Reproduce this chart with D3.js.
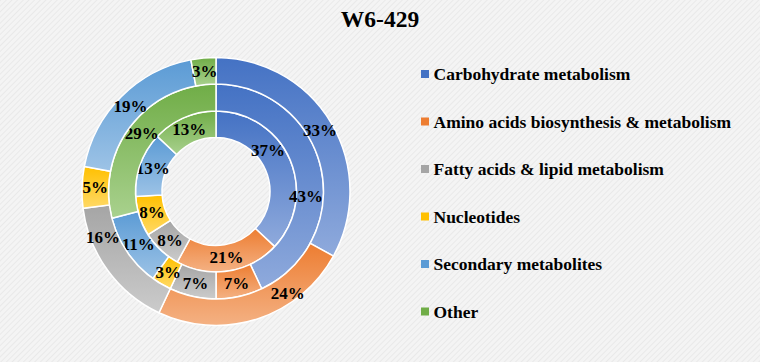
<!DOCTYPE html>
<html>
<head>
<meta charset="utf-8">
<script src="https://cdn.jsdelivr.net/npm/d3@7/dist/d3.min.js"></script>
<style>
  html, body { margin: 0; padding: 0; background: #f3f3f3; }
  svg { display: block; }
</style>
</head>
<body>
<svg id="chart" width="760" height="362"></svg>
<script>
// ---- Data ----
const title = "W6-429";
const categories = [
  "Carbohydrate metabolism",
  "Amino acids biosynthesis & metabolism",
  "Fatty acids & lipid metabolism",
  "Nucleotides",
  "Secondary metabolites",
  "Other"
];
const innerValues  = [37, 21, 8, 8, 13, 13];
const middleValues = [43, 7, 7, 3, 11, 29];
const outerValues  = [33, 24, 16, 5, 19, 3];

// ---- Styles ----
const darkColors  = ["#4472C4", "#ED7D31", "#A5A5A5", "#FFC000", "#5B9BD5", "#70AD47"];
const lightColors = ["#8FAADC", "#F4B183", "#CBCBCB", "#FFD966", "#9DC3E6", "#A9D18E"];

// label placement tweaks (ring index, slice index) -> angle in degrees / radius
const labelOverrides = {
  "0-0": { angle: 52, r: 66 },
  "1-0": { angle: 93, r: 90 },
  "2-1": { angle: 145, r: 125 },
  "2-2": { angle: 248, r: 122 }
};

const W = 760, H = 362;
const cx = 216, cy = 191.5;
const radii = [[54, 80.5], [80.5, 107.5], [107.5, 134]];
const rings = [innerValues, middleValues, outerValues];

const svg = d3.select("#chart");
const defs = svg.append("defs");

// background pattern
const pat = defs.append("pattern")
  .attr("id", "bgpat").attr("width", 4).attr("height", 4)
  .attr("patternUnits", "userSpaceOnUse")
  .attr("patternTransform", "rotate(45)");
pat.append("rect").attr("width", 4).attr("height", 4).attr("fill", "#f4f4f4");
pat.append("line").attr("x1", 0).attr("y1", 0).attr("x2", 0).attr("y2", 4)
  .attr("stroke", "#e6e6e6").attr("stroke-width", 1.5);

svg.append("rect").attr("width", W).attr("height", H).attr("fill", "url(#bgpat)");

// gradients per category
categories.forEach((c, i) => {
  const g = defs.append("linearGradient").attr("id", "grad" + i)
    .attr("x1", 0).attr("y1", 0).attr("x2", 0).attr("y2", 1);
  g.append("stop").attr("offset", "0%").attr("stop-color", darkColors[i]);
  g.append("stop").attr("offset", "100%").attr("stop-color", lightColors[i]);
});

// title
svg.append("text")
  .attr("x", 380).attr("y", 27)
  .attr("text-anchor", "middle")
  .attr("font-family", "'Liberation Serif', 'Times New Roman', serif")
  .attr("font-weight", "bold")
  .attr("font-size", 23.5)
  .attr("fill", "#000")
  .text(title);

const pie = d3.pie().sort(null).value(d => d);
const chartG = svg.append("g").attr("transform", `translate(${cx},${cy})`);

rings.forEach((vals, ri) => {
  const arc = d3.arc().innerRadius(radii[ri][0]).outerRadius(radii[ri][1]);
  const arcs = pie(vals);
  const total = d3.sum(vals);
  const gRing = chartG.append("g");
  gRing.selectAll("path").data(arcs).join("path")
    .attr("d", arc)
    .attr("fill", (d, i) => `url(#grad${i})`)
    .attr("stroke", "#ffffff")
    .attr("stroke-width", 1.5);

  gRing.selectAll("text").data(arcs).join("text")
    .attr("transform", (d, i) => {
      const ov = labelOverrides[ri + "-" + i];
      let p;
      if (ov) {
        const a = ov.angle * Math.PI / 180;
        p = [ov.r * Math.sin(a), -ov.r * Math.cos(a)];
      } else {
        p = arc.centroid(d);
      }
      return `translate(${p[0]},${p[1]})`;
    })
    .attr("text-anchor", "middle")
    .attr("dominant-baseline", "central")
    .attr("font-family", "'Liberation Serif', 'Times New Roman', serif")
    .attr("font-weight", "bold")
    .attr("font-size", 17)
    .attr("fill", "#000")
    .text(d => Math.round(d.data / total * 100) + "%");
});

// legend
const legendY = d3.scalePoint().domain(categories).range([74, 311.5]);
const lg = svg.append("g");
const items = lg.selectAll("g").data(categories).join("g")
  .attr("transform", d => `translate(421,${legendY(d)})`);
items.append("rect")
  .attr("x", 0).attr("y", -4).attr("width", 8).attr("height", 8)
  .attr("fill", (d, i) => darkColors[i]);
items.append("text")
  .attr("x", 12.5).attr("y", 0)
  .attr("dominant-baseline", "central")
  .attr("font-family", "'Liberation Serif', 'Times New Roman', serif")
  .attr("font-weight", "bold")
  .attr("font-size", 17.5)
  .attr("fill", "#000")
  .text(d => d);
</script>
</body>
</html>
